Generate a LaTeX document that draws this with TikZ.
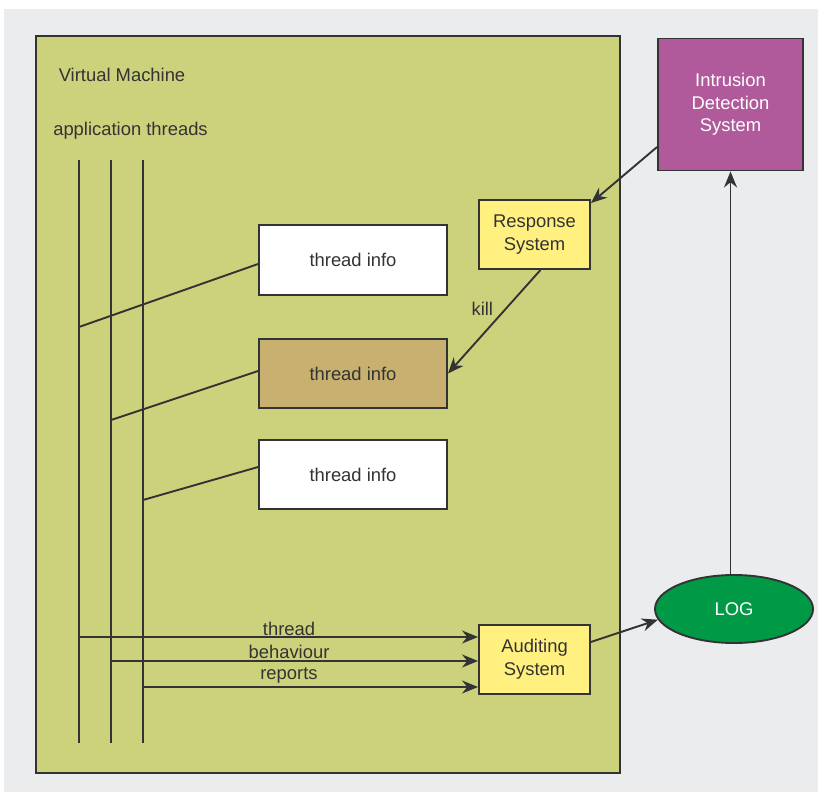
\documentclass[tikz,border=0pt]{standalone}
\usepackage{fontspec}
\setmainfont{Liberation Sans}
\usepackage{tikz}
\usetikzlibrary{positioning,arrows.meta,calc,shapes.geometric}
\definecolor{bggray}{RGB}{235,236,238}
\definecolor{vmgreen}{RGB}{204,210,124}
\definecolor{idspurple}{RGB}{176,90,156}
\definecolor{boxyellow}{RGB}{255,240,128}
\definecolor{killtan}{RGB}{200,176,112}
\definecolor{loggreen}{RGB}{0,154,70}
\definecolor{ink}{RGB}{51,51,51}

\begin{document}
\begin{tikzpicture}[x=1pt,y=-1pt,line width=1.9pt,
  every node/.style={font=\fontsize{18.4}{22.6}\selectfont,text=ink},
  box/.style={draw=ink,rectangle,inner sep=0pt,align=center},
  arr/.style={draw=ink,-{Stealth[length=16pt,width=13pt]}}]
  \useasboundingbox (0,0) rectangle (818,794);
  % background and virtual machine frame
  \fill[bggray] (4,9) rectangle (818,792);
  \draw[ink,fill=vmgreen] (36,36) rectangle (620,773);
  \node[anchor=west] (vmlabel) at (54.5,75) {Virtual Machine};
  \node[anchor=west] (applabel) at (49,131) {application threads};
  % application threads
  \foreach \n/\x in {1/79,2/111,3/143}{
    \coordinate (t\n-top) at (\x,160);
    \coordinate (t\n-bot) at (\x,743);
    \draw[ink] (t\n-top) -- (t\n-bot);
  }
  % thread info boxes
  \node[box,fill=white,minimum width=188,minimum height=70] (th1) at (353,260) {thread info};
  \node[box,fill=killtan,minimum width=188,minimum height=69] (th2) at (353,373.5) {thread info};
  \node[box,fill=white,minimum width=188,minimum height=69] (th3) at (353,474.5) {thread info};
  \coordinate (j1) at (79,327);
  \coordinate (j2) at (111,420);
  \coordinate (j3) at (143,500);
  \draw[ink] (j1) -- ([yshift=-4pt]th1.west);
  \draw[ink] (j2) -- ([yshift=2.5pt]th2.west);
  \draw[ink] (j3) -- ([yshift=7.5pt]th3.west);
  % response, auditing, ids, log
  \node[box,fill=boxyellow,minimum width=111,minimum height=69] (resp) at (534.5,234.5) {Response\\System};
  \node[box,fill=boxyellow,minimum width=111,minimum height=69] (aud) at (534.5,659.5) {Auditing\\System};
  \node[box,fill=idspurple,text=white,minimum width=145,minimum height=132] (ids) at (730.5,104.5) {Intrusion\\Detection\\System};
  \node[ellipse,draw=ink,fill=loggreen,text=white,inner sep=0pt,minimum width=158,minimum height=68] (log) at (734,609) {LOG};
  % thread behaviour reports
  \coordinate (a1) at (79,637);
  \coordinate (a2) at (111,661);
  \coordinate (a3) at (143,687);
  \draw[arr] (a1) -- (a1 -| aud.west);
  \draw[arr] (a2) -- (a2 -| aud.west);
  \draw[arr] (a3) -- (a3 -| aud.west);
  \node (lthread) at (289,629) {thread};
  \node (lbehav) at (289,652) {behaviour};
  \node (lreports) at (289,675) {reports};
  % control flow
  \draw[arr] ([yshift=17.5pt]aud.east) -- (log.188);
  \draw[arr] (ids.south |- log.north) -- (ids.south);
  \draw[arr] ([yshift=-42.5pt]ids.west) -- ([yshift=-4pt]resp.north east);
  \draw[arr] ([xshift=6pt]resp.south) -- (th2.east) node[pos=0.38,left=8pt] (lkill) {kill};
\end{tikzpicture}
\end{document}
